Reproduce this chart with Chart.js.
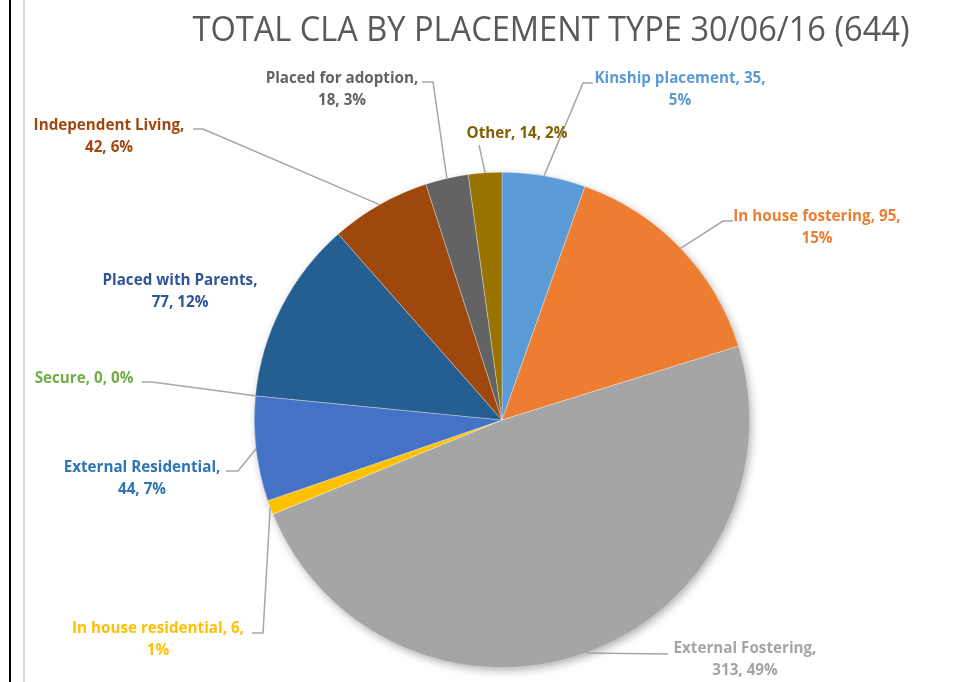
<!DOCTYPE html>
<html>
<head>
<meta charset="utf-8">
<script src="https://cdn.jsdelivr.net/npm/chart.js@4.4.0/dist/chart.umd.min.js"></script>
<style>
  body { margin: 0; background: #fff; }
  #wrap { position: relative; width: 969px; height: 682px; }
</style>
</head>
<body>
<div id="wrap"><canvas id="pieChart" width="969" height="682"></canvas></div>
<script>
const title = "TOTAL CLA BY PLACEMENT TYPE 30/06/16 (644)";
const categories = [
  "Kinship placement", "In house fostering", "External Fostering",
  "In house residential", "External Residential", "Secure",
  "Placed with Parents", "Independent Living", "Placed for adoption", "Other"
];
const counts = [35, 95, 313, 6, 44, 0, 77, 42, 18, 14];
const percentLabels = ["5%", "15%", "49%", "1%", "7%", "0%", "12%", "6%", "3%", "2%"];

const sliceColors = ["#5B9BD5", "#ED7D31", "#A5A5A5", "#FFC000", "#4472C4",
  "#70AD47", "#255E91", "#9E480E", "#636363", "#997300"];
const textColors = ["#5B9BD5", "#ED7D31", "#A5A5A5", "#FFC000", "#2E75B6",
  "#70AD47", "#2F5597", "#9E480E", "#636363", "#806000"];

// where each data label sits (text lines) and the bend of its leader line
const labelLayout = [
  { lines: ["Kinship placement, 35,", "5%"], x: 680, y: 78, path: [[583, 83], [593, 83]] },
  { lines: ["In house fostering, 95,", "15%"], x: 817, y: 216, path: [[723, 221], [733, 221]] },
  { lines: ["External Fostering,", "313, 49%"], x: 745, y: 648, path: [[668, 654]] },
  { lines: ["In house residential, 6,", "1%"], x: 158, y: 628, path: [[263, 633], [252, 633]] },
  { lines: ["External Residential,", "44, 7%"], x: 142, y: 467, path: [[238, 471], [226, 471]] },
  { lines: ["Secure, 0, 0%"], x: 84, y: 378, path: [[152, 382], [142, 382]] },
  { lines: ["Placed with Parents,", "77, 12%"], x: 180, y: 280, path: [] },
  { lines: ["Independent Living,", "42, 6%"], x: 109, y: 125, path: [[203, 129], [193, 129]] },
  { lines: ["Placed for adoption,", "18, 3%"], x: 342, y: 78, path: [[433, 82], [422, 82]] },
  { lines: ["Other, 14, 2%"], x: 517, y: 133, path: [[479, 145]] }
];

// draw text squeezed/stretched to a given width (Calibri is narrower than what we have)
function fitText(ctx, text, x, y, width) {
  const w = ctx.measureText(text).width;
  ctx.save();
  ctx.translate(x, y);
  ctx.scale(width / w, 1);
  ctx.fillText(text, 0, 0);
  ctx.restore();
}

const framePlugin = {
  id: "frame",
  beforeDraw(chart) {
    const ctx = chart.ctx;
    ctx.save();
    ctx.fillStyle = "#fff";
    ctx.fillRect(0, 0, chart.width, chart.height);
    ctx.fillStyle = "#000";
    ctx.fillRect(9, 0, 2, chart.height);
    ctx.fillStyle = "#d9d9d9";
    ctx.fillRect(23, 0, 2, chart.height);
    // title
    ctx.font = "400 35px 'Open Sans'";
    ctx.fillStyle = "#595959";
    ctx.textAlign = "center";
    ctx.textBaseline = "middle";
    fitText(ctx, title, 551, 31, 717);
    ctx.restore();
  },
  beforeDatasetsDraw(chart) {
    // soft shadow under the whole pie
    const arc = chart.getDatasetMeta(0).data[0];
    const ctx = chart.ctx;
    ctx.save();
    ctx.shadowColor = "rgba(0,0,0,0.35)";
    ctx.shadowBlur = 10;
    ctx.shadowOffsetX = 2;
    ctx.shadowOffsetY = 3;
    ctx.fillStyle = "#fff";
    ctx.beginPath();
    ctx.arc(arc.x, arc.y, arc.outerRadius - 1, 0, Math.PI * 2);
    ctx.fill();
    ctx.restore();
  },
  afterDatasetsDraw(chart) {
    const ctx = chart.ctx;
    const arcs = chart.getDatasetMeta(0).data;
    ctx.save();
    arcs.forEach((arc, i) => {
      const lay = labelLayout[i];
      if (lay.path.length) {
        const mid = (arc.startAngle + arc.endAngle) / 2;
        const sx = arc.x + Math.cos(mid) * arc.outerRadius;
        const sy = arc.y + Math.sin(mid) * arc.outerRadius;
        ctx.strokeStyle = "#A6A6A6";
        ctx.lineWidth = 1.5;
        ctx.beginPath();
        ctx.moveTo(sx, sy);
        lay.path.forEach((p) => ctx.lineTo(p[0], p[1]));
        ctx.stroke();
      }
      ctx.font = "bold 16px 'Open Sans'";
      ctx.fillStyle = textColors[i];
      ctx.textAlign = "center";
      ctx.textBaseline = "middle";
      lay.lines.forEach((t, k) => {
        const w = ctx.measureText(t).width * 0.95;
        fitText(ctx, t, lay.x, lay.y + k * 22, w);
      });
    });
    ctx.restore();
  }
};

const ctx = document.getElementById("pieChart").getContext("2d");
new Chart(ctx, {
  type: "pie",
  data: {
    labels: categories,
    datasets: [{
      data: counts,
      backgroundColor: sliceColors,
      borderColor: "rgba(255,255,255,0.6)",
      borderWidth: 0.5
    }]
  },
  options: {
    responsive: false,
    animation: false,
    layout: { padding: { left: 254, right: 219, top: 172, bottom: 14 } },
    plugins: {
      legend: { display: false },
      tooltip: { enabled: false },
      title: { display: false }
    }
  },
  plugins: [framePlugin]
});
</script>
</body>
</html>
